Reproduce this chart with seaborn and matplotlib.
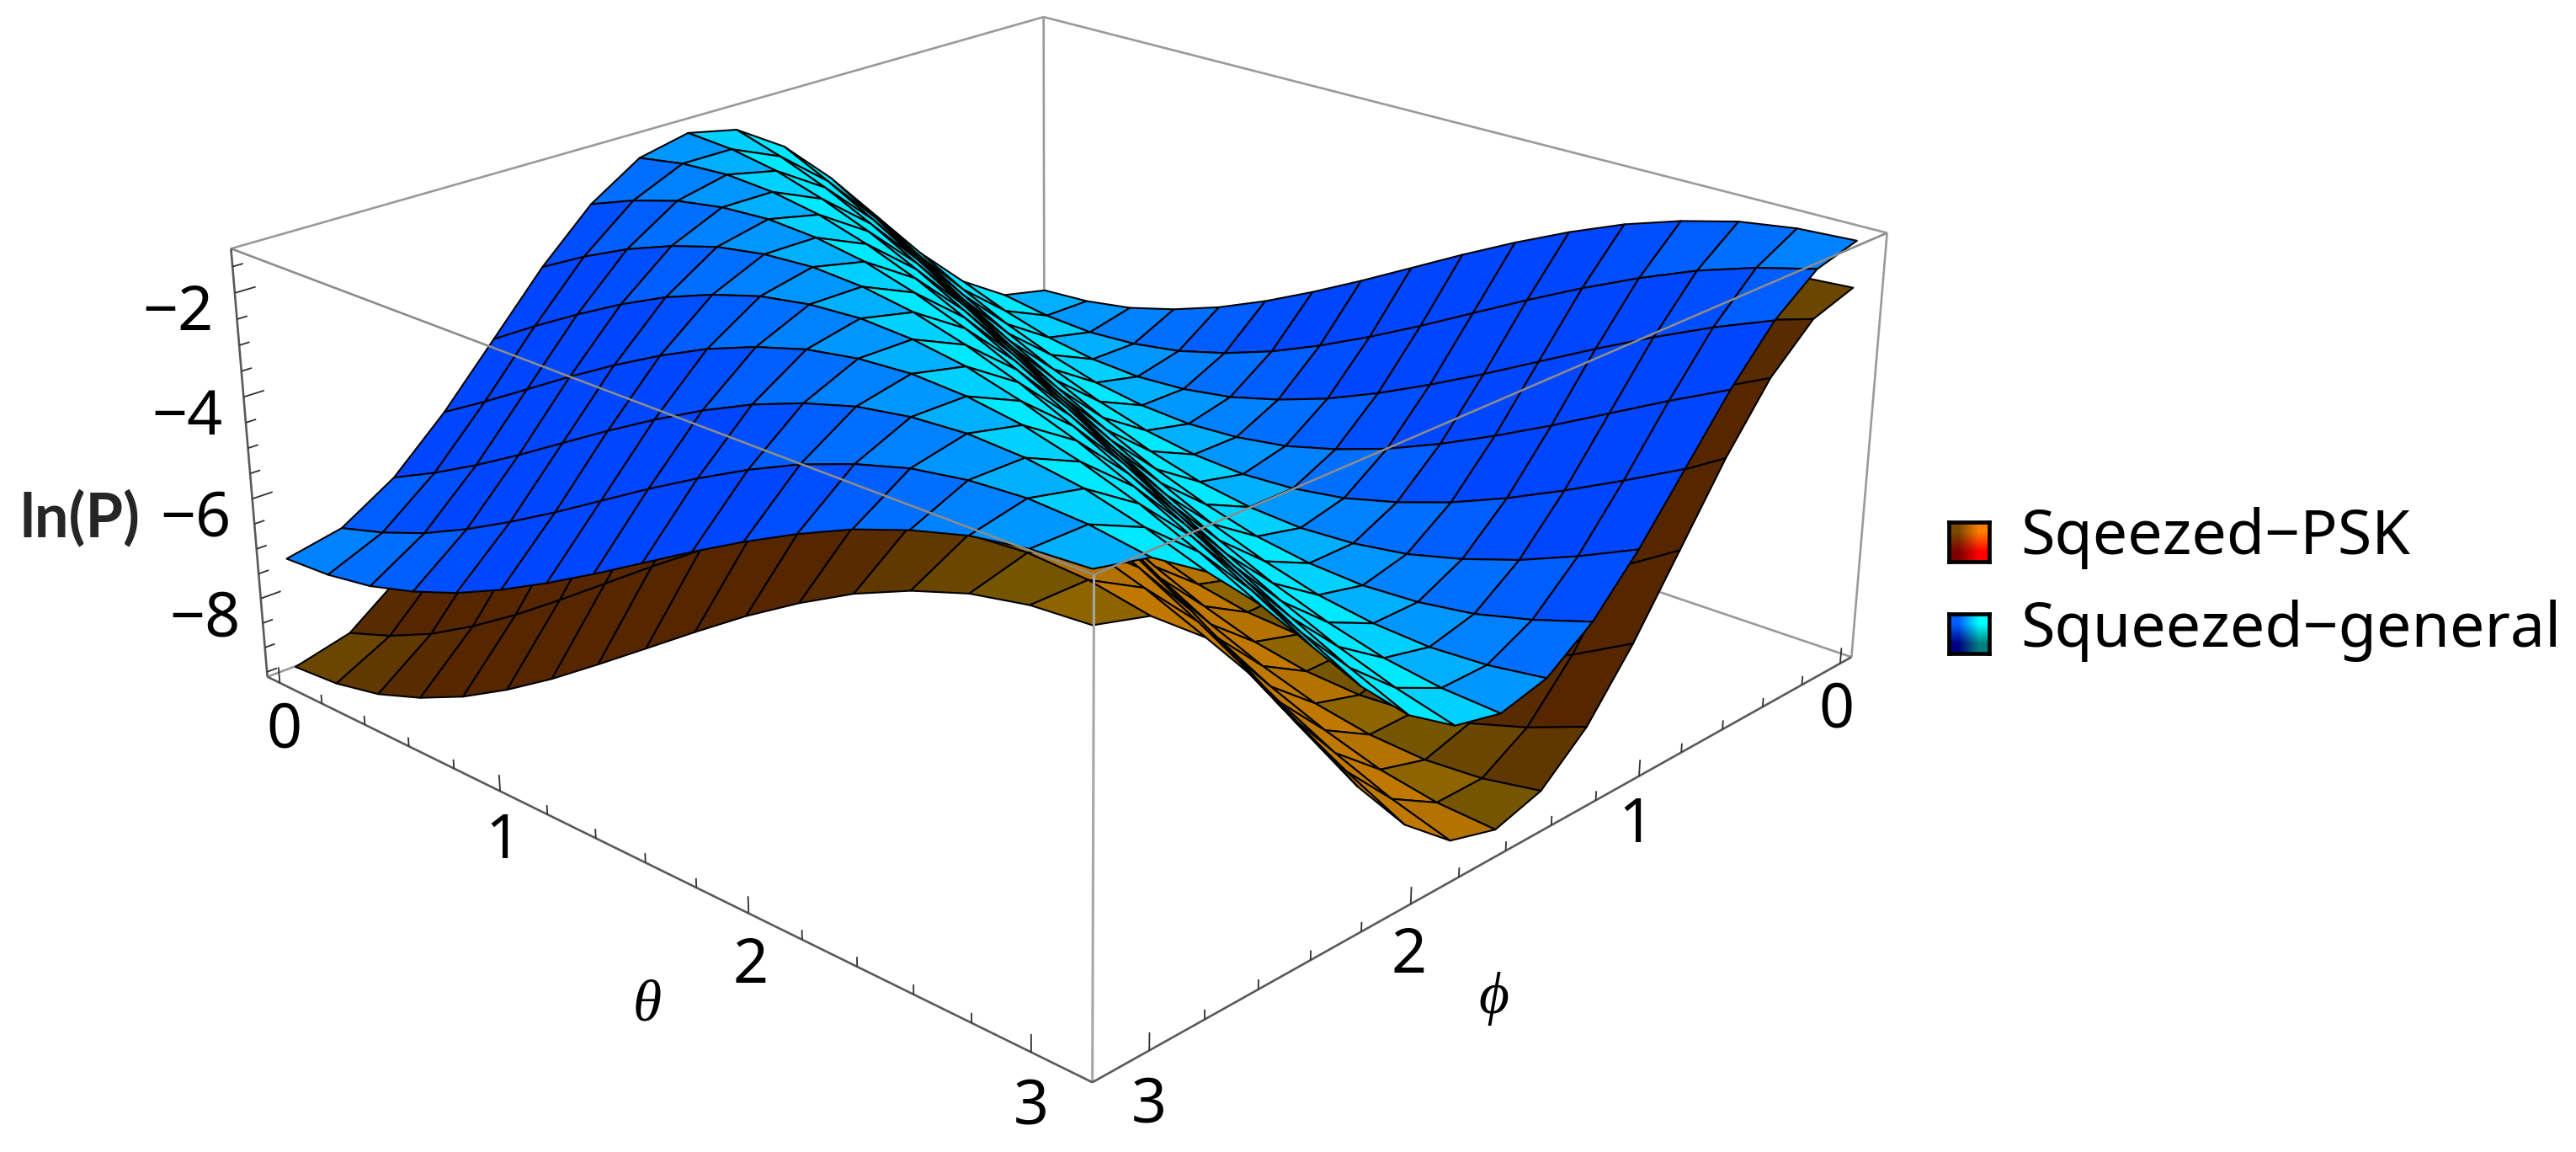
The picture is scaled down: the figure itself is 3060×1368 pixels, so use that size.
import numpy as np
import matplotlib
matplotlib.use("Agg")
import matplotlib.pyplot as plt
from mpl_toolkits.mplot3d import proj3d
import seaborn as sns

THETA = [0.0, 0.196, 0.393, 0.589, 0.785, 0.982, 1.178, 1.374, 1.571, 1.767, 1.963, 2.160, 2.356, 2.553, 2.749, 2.945, 3.142]
PHI = [0.0, 0.196, 0.393, 0.589, 0.785, 0.982, 1.178, 1.374, 1.571, 1.767, 1.963, 2.160, 2.356, 2.553, 2.749, 2.945, 3.142]

# ln(P), one row per theta, one column per phi
Z_GENERAL = [
    [-7.20, -6.98, -6.34, -5.38, -4.25, -3.12, -2.16, -1.52, -1.30, -1.52, -2.16, -3.12, -4.25, -5.38, -6.34, -6.98, -7.20],
    [-7.14, -7.14, -6.70, -5.89, -4.83, -3.67, -2.61, -1.80, -1.36, -1.36, -1.80, -2.61, -3.67, -4.83, -5.89, -6.70, -7.14],
    [-6.98, -7.20, -6.98, -6.34, -5.38, -4.25, -3.12, -2.16, -1.52, -1.30, -1.52, -2.16, -3.12, -4.25, -5.38, -6.34, -6.98],
    [-6.70, -7.14, -7.14, -6.70, -5.89, -4.83, -3.67, -2.61, -1.80, -1.36, -1.36, -1.80, -2.61, -3.67, -4.83, -5.89, -6.70],
    [-6.34, -6.98, -7.20, -6.98, -6.34, -5.38, -4.25, -3.12, -2.16, -1.52, -1.30, -1.52, -2.16, -3.12, -4.25, -5.38, -6.34],
    [-5.89, -6.70, -7.14, -7.14, -6.70, -5.89, -4.83, -3.67, -2.61, -1.80, -1.36, -1.36, -1.80, -2.61, -3.67, -4.83, -5.89],
    [-5.38, -6.34, -6.98, -7.20, -6.98, -6.34, -5.38, -4.25, -3.12, -2.16, -1.52, -1.30, -1.52, -2.16, -3.12, -4.25, -5.38],
    [-4.83, -5.89, -6.70, -7.14, -7.14, -6.70, -5.89, -4.83, -3.67, -2.61, -1.80, -1.36, -1.36, -1.80, -2.61, -3.67, -4.83],
    [-4.25, -5.38, -6.34, -6.98, -7.20, -6.98, -6.34, -5.38, -4.25, -3.12, -2.16, -1.52, -1.30, -1.52, -2.16, -3.12, -4.25],
    [-3.67, -4.83, -5.89, -6.70, -7.14, -7.14, -6.70, -5.89, -4.83, -3.67, -2.61, -1.80, -1.36, -1.36, -1.80, -2.61, -3.67],
    [-3.12, -4.25, -5.38, -6.34, -6.98, -7.20, -6.98, -6.34, -5.38, -4.25, -3.12, -2.16, -1.52, -1.30, -1.52, -2.16, -3.12],
    [-2.61, -3.67, -4.83, -5.89, -6.70, -7.14, -7.14, -6.70, -5.89, -4.83, -3.67, -2.61, -1.80, -1.36, -1.36, -1.80, -2.61],
    [-2.16, -3.12, -4.25, -5.38, -6.34, -6.98, -7.20, -6.98, -6.34, -5.38, -4.25, -3.12, -2.16, -1.52, -1.30, -1.52, -2.16],
    [-1.80, -2.61, -3.67, -4.83, -5.89, -6.70, -7.14, -7.14, -6.70, -5.89, -4.83, -3.67, -2.61, -1.80, -1.36, -1.36, -1.80],
    [-1.52, -2.16, -3.12, -4.25, -5.38, -6.34, -6.98, -7.20, -6.98, -6.34, -5.38, -4.25, -3.12, -2.16, -1.52, -1.30, -1.52],
    [-1.36, -1.80, -2.61, -3.67, -4.83, -5.89, -6.70, -7.14, -7.14, -6.70, -5.89, -4.83, -3.67, -2.61, -1.80, -1.36, -1.36],
    [-1.30, -1.52, -2.16, -3.12, -4.25, -5.38, -6.34, -6.98, -7.20, -6.98, -6.34, -5.38, -4.25, -3.12, -2.16, -1.52, -1.30],
]

Z_PSK = [
    [-9.40, -9.13, -8.35, -7.18, -5.80, -4.42, -3.25, -2.47, -2.20, -2.47, -3.25, -4.42, -5.80, -7.18, -8.35, -9.13, -9.40],
    [-9.33, -9.33, -8.79, -7.80, -6.50, -5.10, -3.80, -2.81, -2.27, -2.27, -2.81, -3.80, -5.10, -6.50, -7.80, -8.79, -9.33],
    [-9.13, -9.40, -9.13, -8.35, -7.18, -5.80, -4.42, -3.25, -2.47, -2.20, -2.47, -3.25, -4.42, -5.80, -7.18, -8.35, -9.13],
    [-8.79, -9.33, -9.33, -8.79, -7.80, -6.50, -5.10, -3.80, -2.81, -2.27, -2.27, -2.81, -3.80, -5.10, -6.50, -7.80, -8.79],
    [-8.35, -9.13, -9.40, -9.13, -8.35, -7.18, -5.80, -4.42, -3.25, -2.47, -2.20, -2.47, -3.25, -4.42, -5.80, -7.18, -8.35],
    [-7.80, -8.79, -9.33, -9.33, -8.79, -7.80, -6.50, -5.10, -3.80, -2.81, -2.27, -2.27, -2.81, -3.80, -5.10, -6.50, -7.80],
    [-7.18, -8.35, -9.13, -9.40, -9.13, -8.35, -7.18, -5.80, -4.42, -3.25, -2.47, -2.20, -2.47, -3.25, -4.42, -5.80, -7.18],
    [-6.50, -7.80, -8.79, -9.33, -9.33, -8.79, -7.80, -6.50, -5.10, -3.80, -2.81, -2.27, -2.27, -2.81, -3.80, -5.10, -6.50],
    [-5.80, -7.18, -8.35, -9.13, -9.40, -9.13, -8.35, -7.18, -5.80, -4.42, -3.25, -2.47, -2.20, -2.47, -3.25, -4.42, -5.80],
    [-5.10, -6.50, -7.80, -8.79, -9.33, -9.33, -8.79, -7.80, -6.50, -5.10, -3.80, -2.81, -2.27, -2.27, -2.81, -3.80, -5.10],
    [-4.42, -5.80, -7.18, -8.35, -9.13, -9.40, -9.13, -8.35, -7.18, -5.80, -4.42, -3.25, -2.47, -2.20, -2.47, -3.25, -4.42],
    [-3.80, -5.10, -6.50, -7.80, -8.79, -9.33, -9.33, -8.79, -7.80, -6.50, -5.10, -3.80, -2.81, -2.27, -2.27, -2.81, -3.80],
    [-3.25, -4.42, -5.80, -7.18, -8.35, -9.13, -9.40, -9.13, -8.35, -7.18, -5.80, -4.42, -3.25, -2.47, -2.20, -2.47, -3.25],
    [-2.81, -3.80, -5.10, -6.50, -7.80, -8.79, -9.33, -9.33, -8.79, -7.80, -6.50, -5.10, -3.80, -2.81, -2.27, -2.27, -2.81],
    [-2.47, -3.25, -4.42, -5.80, -7.18, -8.35, -9.13, -9.40, -9.13, -8.35, -7.18, -5.80, -4.42, -3.25, -2.47, -2.20, -2.47],
    [-2.27, -2.81, -3.80, -5.10, -6.50, -7.80, -8.79, -9.33, -9.33, -8.79, -7.80, -6.50, -5.10, -3.80, -2.81, -2.27, -2.27],
    [-2.20, -2.47, -3.25, -4.42, -5.80, -7.18, -8.35, -9.13, -9.40, -9.13, -8.35, -7.18, -5.80, -4.42, -3.25, -2.47, -2.20],
]

ANGLE_TICKS = [0, 1, 2, 3]
Z_TICKS = [-8, -6, -4, -2]
LEGEND_LABELS = ["Sqeezed−PSK", "Squeezed−general"]

XLO, XHI = -0.06, 3.2
ZLO, ZHI = -9.6, -1.16
W_PX, H_PX = 3060, 1368
SCALE, AX_PX, AY_PX = 10495.8, 1263.7, 544.5

sns.set_theme(style="white")
plt.rcParams["font.family"] = ["Noto Sans", "DejaVu Sans"]

blue_cmap = sns.blend_palette(["#0046ff", "#00a0ff", "#00e8ff"], as_cmap=True)
orange_cmap = sns.blend_palette(["#552600", "#7a5c00", "#c07800"], as_cmap=True)


def facet_colors(z, phi, cmap):
    # colour follows the slope along phi, like the coloured lights in the original
    dz = (z[:, 1:] - z[:, :-1]) / np.diff(phi)
    slope = 0.5 * (dz[:-1, :] + dz[1:, :])
    return cmap(np.interp(slope, [-5.0, 0.0, 2.5], [0.0, 0.5, 1.0]))


def add_line(ax, xs, ys, zs, color="#9a9a9a", lw=1.9, zorder=1):
    ax.plot(xs, ys, zs, color=color, lw=lw, zorder=zorder, clip_on=False, solid_capstyle="butt")


def add_label(ax, x, y, z, text, **kwargs):
    xs, ys, _ = proj3d.proj_transform(x, y, z, ax.get_proj())
    ax.text2D(xs, ys, text, transform=ax.transData, ha=kwargs.pop("ha", "center"), va="center",
              color="black", **kwargs)


fig = plt.figure(figsize=(W_PX / 100, H_PX / 100), dpi=100, facecolor="white")
ax = fig.add_axes([0, 0, 1, 1], projection="3d")
ax.computed_zorder = False
ax.set_xlim(XLO, XHI)
ax.set_ylim(XLO, XHI)
ax.set_zlim(ZLO, ZHI)
ax.set_box_aspect((1, 1, 0.40105))
ax.view_init(22.057, 43.324)
ax.set_proj_type("persp", focal_length=0.4394)
ax.set_xticks([])
ax.set_yticks([])
ax.set_zticks([])
ax.set_axis_off()

view = ax.viewLim
side = SCALE * (view.x1 - view.x0)
left = AX_PX + SCALE * view.x0
bottom = H_PX - AY_PX + SCALE * view.y0
ax.set_position([left / W_PX, bottom / H_PX, side / W_PX, side / H_PX])

phi = np.array(PHI)
theta = np.array(THETA)
X, Y = np.meshgrid(phi, theta)

# box edges behind the surfaces
add_line(ax, [XLO, XLO], [XLO, XLO], [ZLO, ZHI])
add_line(ax, [XHI, XLO], [XLO, XLO], [ZHI, ZHI])
add_line(ax, [XLO, XLO], [XLO, XHI], [ZHI, ZHI])
add_line(ax, [XLO, XLO], [XLO, XHI], [ZLO, ZLO])
add_line(ax, [XLO, XHI], [XLO, XLO], [ZLO, ZLO])

for z_table, cmap, order in [(Z_PSK, orange_cmap, 2), (Z_GENERAL, blue_cmap, 3)]:
    z = np.array(z_table)
    surf = ax.plot_surface(X, Y, z, facecolors=facet_colors(z, phi, cmap), rstride=1, cstride=1,
                           shade=False, edgecolor="black", linewidth=1.5, antialiased=True,
                           zorder=order)
    surf.set_clip_on(False)

# box edges in front
add_line(ax, [XHI, XHI], [XLO, XHI], [ZHI, ZHI], color="#8c8c8c", zorder=5)
add_line(ax, [XHI, XLO], [XHI, XHI], [ZHI, ZHI], color="#8c8c8c", zorder=5)
add_line(ax, [XHI, XHI], [XHI, XHI], [ZLO, ZHI], color="#a6a6a6", lw=2.2, zorder=5)
add_line(ax, [XLO, XLO], [XHI, XHI], [ZLO, ZHI], zorder=5)
add_line(ax, [XHI, XHI], [XLO, XLO], [ZLO, ZHI], color="#5a5a5a", lw=1.9, zorder=5)
add_line(ax, [XHI, XHI], [XLO, XHI], [ZLO, ZLO], color="#5a5a5a", lw=1.9, zorder=5)
add_line(ax, [XLO, XHI], [XHI, XHI], [ZLO, ZLO], color="#5a5a5a", lw=1.9, zorder=5)

# ticks on the angle axes and on the vertical axis
for tick in np.arange(0, 3.01, 0.2):
    major = abs(tick - round(tick)) < 1e-6
    length = 0.32 if major else 0.18
    add_line(ax, [XHI, XHI], [tick, tick], [ZLO, ZLO + length], color="#303030", lw=1.3, zorder=5)
    add_line(ax, [tick, tick], [XHI, XHI], [ZLO, ZLO + length], color="#303030", lw=1.3, zorder=5)
for tick in np.arange(-9.5, -1.4, 0.5):
    major = abs(tick - round(tick)) < 1e-6 and int(round(tick)) % 2 == 0
    length = 0.07 if major else 0.035
    add_line(ax, [XHI, XHI - length], [XLO, XLO], [tick, tick], color="#303030", lw=1.3, zorder=5)

TICK_SIZE = 53
for value in ANGLE_TICKS:
    add_label(ax, XHI, value, ZLO - 1.0, str(value), fontsize=TICK_SIZE)
    add_label(ax, value, XHI, ZLO - 1.0, str(value), fontsize=TICK_SIZE)
for value in Z_TICKS:
    add_label(ax, XHI + 0.075, XLO, value - 0.28, f"−{abs(value)}", ha="right", fontsize=TICK_SIZE)

add_label(ax, XHI, 1.58, ZLO - 2.83, "θ", fontsize=50, family="Liberation Serif", style="italic")
add_label(ax, 1.62, XHI, ZLO - 2.83, "ϕ", fontsize=50, family="Liberation Serif", style="italic")

fig.text(23 / W_PX, 1 - 637 / H_PX, "ln(P)", fontsize=52, family="Lato", fontweight="bold", ha="left", va="baseline")

# legend swatches with the gradient of the surface lights
SWATCHES = [
    [[[0.48, 0.29, 0.0], [1.0, 0.5, 0.0]], [[0.5, 0.0, 0.0], [1.0, 0.0, 0.0]]],
    [[[0.0, 0.38, 1.0], [0.0, 1.0, 1.0]], [[0.0, 0.0, 0.5], [0.0, 0.5, 0.5]]],
]
for k, (swatch, label) in enumerate(zip(SWATCHES, LEGEND_LABELS)):
    top = 620 + 109 * k
    sax = fig.add_axes([2315 / W_PX, 1 - (top + 47) / H_PX, 48 / W_PX, 47 / H_PX])
    sax.imshow(np.array(swatch), interpolation="bilinear", aspect="auto")
    sax.set_xticks([])
    sax.set_yticks([])
    for spine in sax.spines.values():
        spine.set_visible(True)
        spine.set_color("black")
        spine.set_linewidth(3.4)
    fig.text(2400 / W_PX, 1 - (658 + 110 * k) / H_PX, label, fontsize=TICK_SIZE, ha="left", va="baseline", color="black")

fig.savefig("out.png", dpi=100, facecolor="white")
